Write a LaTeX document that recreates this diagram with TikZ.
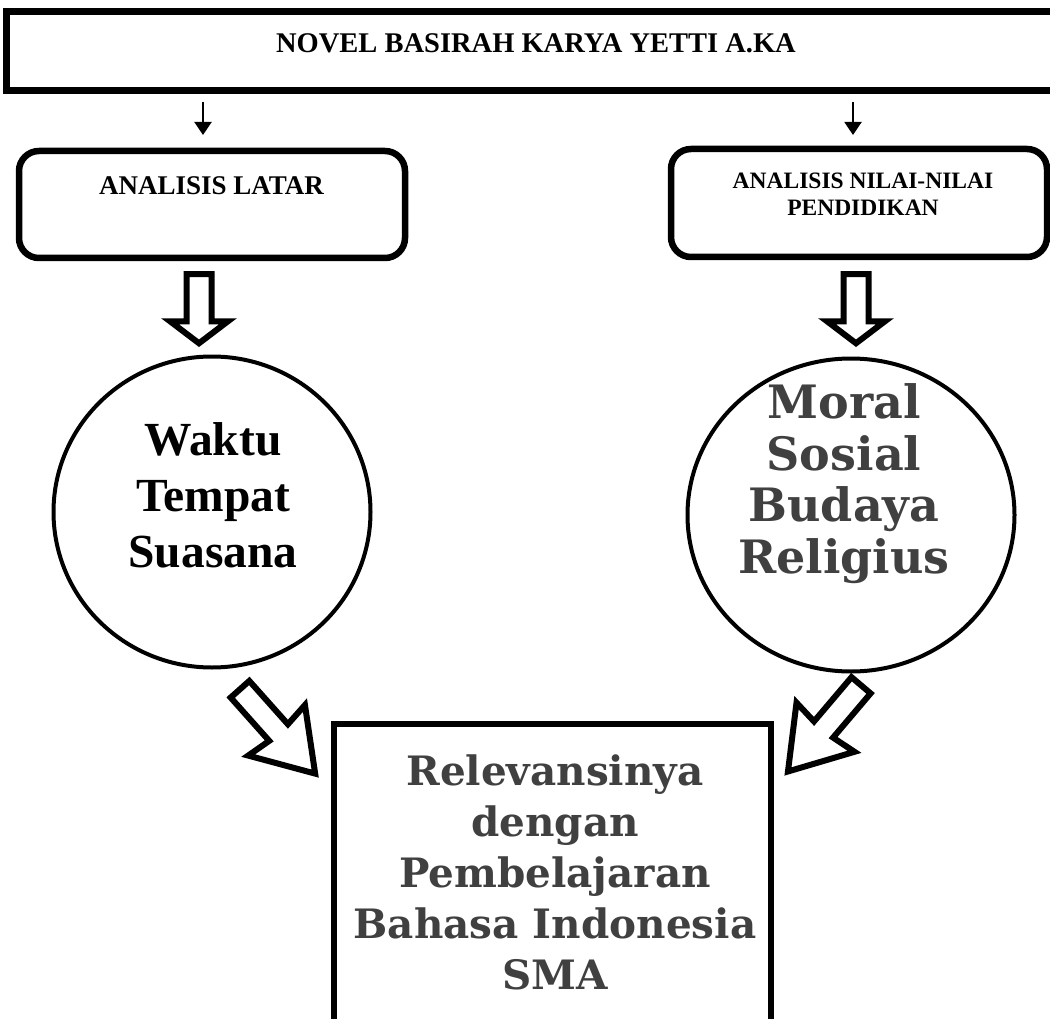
\documentclass[tikz,border=0pt]{standalone}
\usepackage{fontspec}
\setmainfont{Liberation Serif}
\newfontfamily\grayfont{DejaVu Serif}
\usetikzlibrary{calc,arrows.meta,shapes.geometric}
\definecolor{txtgray}{RGB}{64,64,64}
\tikzset{
  topbox/.style={draw=black, line width=7pt, fill=white, inner sep=0pt},
  rbox/.style={draw=black, line width=6.5pt, fill=white, rounded corners=20pt, inner sep=0pt},
  ring/.style={draw=black, line width=4pt, ellipse, fill=white, inner sep=0pt},
  mainbox/.style={draw=black, line width=6.5pt, fill=white, inner sep=0pt},
  blockline/.style={draw=black, line width=6pt, line join=miter, fill=white},
  smallarr/.style={line width=2pt, -{Triangle[width=17pt,length=13pt]}},
  blacktxt/.style={anchor=base, align=center, inner sep=0pt},
  graytxt/.style={anchor=base, align=center, inner sep=0pt, text=txtgray},
  vblock/.pic={\draw[blockline] (3,-12.5) -- (50,-12.5) -- (50,-29) -- (72,0) -- (50,29) -- (50,12.5) -- (3,12.5) -- cycle;},
  dblock/.pic={\draw[blockline] (3,-12.5) -- (61,-12.5) -- (58,-38) -- (116,0) -- (58,38) -- (61,12.5) -- (3,12.5) -- cycle;}
}
\begin{document}
\begin{tikzpicture}[x=1pt,y=-1pt]
\useasboundingbox (0,0) rectangle (1050,1019);
\begin{scope}
\clip (0,0) rectangle (1050,1019);
% top box
\node[topbox, minimum width=1054pt, minimum height=79pt] (top) at (533,51.5) {};
\node[blacktxt, font=\bfseries\fontsize{28.5}{30}\selectfont] (toptxt) at (536,53) {NOVEL BASIRAH KARYA YETTI A.KA};
% second row boxes
\node[rbox, minimum width=386pt, minimum height=107pt] (latar) at (212,204.5) {};
\node[blacktxt, font=\bfseries\fontsize{27}{30}\selectfont] (latartxt) at (211.5,195) {ANALISIS LATAR};
\node[rbox, minimum width=376pt, minimum height=108pt] (nilai) at (859,203) {};
\node[blacktxt, font=\bfseries\fontsize{23.5}{27}\selectfont] (nilaitxt) at (863,216) {ANALISIS NILAI-NILAI\\PENDIDIKAN};
% small arrows
\coordinate (s1) at (203,102); \coordinate (e1) at (203,135);
\coordinate (s2) at (853,102); \coordinate (e2) at (853,135);
\draw[smallarr] (s1) -- (e1);
\draw[smallarr] (s2) -- (e2);
% circles
\node[ring, minimum width=317pt, minimum height=311pt] (waktu) at (212,512) {};
\node[blacktxt, font=\bfseries\fontsize{47.5}{56}\selectfont] (waktutxt) at (213,567) {Waktu\\Tempat\\Suasana};
\node[ring, minimum width=327pt, minimum height=313pt] (moral) at (851,515) {};
\node[graytxt, font=\grayfont\bfseries\fontsize{46}{51.5}\selectfont] (moraltxt) at (844,573) {Moral\\Sosial\\Budaya\\Religius};
% bottom box
\node[mainbox, minimum width=437pt, minimum height=400pt] (sma) at (552.5,924) {};
\node[graytxt, font=\grayfont\bfseries\fontsize{40.5}{51}\selectfont] (smatxt) at (555,989) {Relevansinya\\dengan\\Pembelajaran\\Bahasa Indonesia\\SMA};
% block arrows
\pic[rotate=-90] at ($(latar.south)+(-13,10)$) {vblock};
\pic[rotate=-90] at ($(nilai.south)+(-3,11)$) {vblock};
\pic[rotate=-48.3] at (238,687) {dblock};
\pic[rotate=-130.3] at (863,683) {dblock};
\end{scope}
\end{tikzpicture}
\end{document}
